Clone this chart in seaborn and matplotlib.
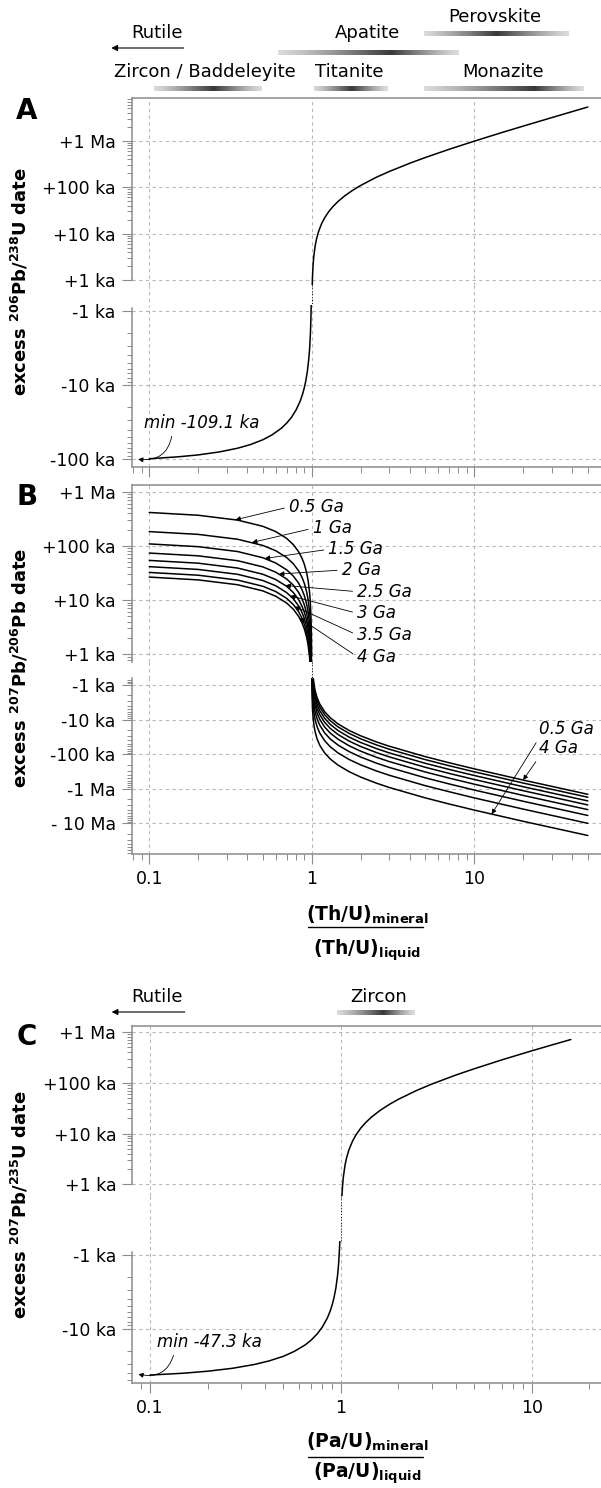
import numpy as np
import pandas as pd
import matplotlib
matplotlib.use("Agg")
import matplotlib.pyplot as plt
import matplotlib.transforms as mtransforms
from matplotlib.collections import LineCollection
from matplotlib.lines import Line2D
from matplotlib.ticker import FixedLocator, FuncFormatter, NullFormatter
import seaborn as sns

# --- data ---
# fractionation factor f = (X/U)mineral / (X/U)liquid
ratio_lo = [0.1, 0.15, 0.2, 0.27, 0.35, 0.42, 0.5, 0.57, 0.65, 0.7, 0.75, 0.8, 0.85, 0.88, 0.9,
            0.92, 0.94, 0.96, 0.97, 0.98, 0.985, 0.99, 0.993, 0.995, 0.998]
ratio_hi = [1.001, 1.003, 1.006, 1.01, 1.015, 1.02, 1.03, 1.05, 1.07, 1.1, 1.15, 1.2, 1.27, 1.35,
            1.45, 1.6, 1.8, 2, 2.5, 3, 4, 5, 7, 10, 15, 20, 30, 50]
ratio_hi_pa = [1.001, 1.003, 1.006, 1.01, 1.015, 1.02, 1.03, 1.05, 1.07, 1.1, 1.15, 1.2, 1.27, 1.35,
               1.45, 1.6, 1.8, 2, 2.5, 3, 4, 5, 7, 10, 13, 16]

# A: excess 206Pb/238U date (ka)
a_lo = [-98.2, -92.7, -87.3, -79.6, -70.9, -63.3, -54.6, -46.9, -38.2, -32.7, -27.3, -21.8, -16.4,
        -13.1, -10.9, -8.73, -6.55, -4.36, -3.27, -2.18, -1.64, -1.09, -0.764, -0.546, -0.218]
a_hi = [0.109, 0.327, 0.655, 1.09, 1.64, 2.18, 3.27, 5.46, 7.64, 10.9, 16.4, 21.8, 29.5, 38.2,
        49.1, 65.5, 87.3, 109, 164, 218, 327, 436, 655, 982, 1530, 2070, 3160, 5350]

# B: excess 207Pb/206Pb date (ka), one row per age
ages_ga = [0.5, 1, 1.5, 2, 2.5, 3, 3.5, 4]
ratio_lo_b = [0.1, 0.2, 0.35, 0.5, 0.6, 0.7, 0.77, 0.83, 0.87, 0.9, 0.93, 0.95, 0.97, 0.98, 0.99,
              0.995, 0.998]
ratio_hi_b = [1.001, 1.003, 1.01, 1.02, 1.035, 1.05, 1.08, 1.12, 1.2, 1.3, 1.45, 1.7, 2, 2.5, 3,
              5, 7, 10, 20, 50]
b_lo = [
    [414, 368, 299, 230, 184, 138, 105.8, 78.2, 59.8, 46, 32.2, 23, 13.8, 9.2, 4.6, 2.3, 0.92],
    [183.6, 163.2, 132.6, 102, 81.6, 61.2, 46.9, 34.7, 26.5, 20.4, 14.3, 10.2, 6.12, 4.08, 2.04, 1.02, 0.408],
    [108.9, 96.8, 78.7, 60.5, 48.4, 36.3, 27.8, 20.6, 15.7, 12.1, 8.47, 6.05, 3.63, 2.42, 1.21, 0.605, 0.242],
    [73.8, 65.6, 53.3, 41, 32.8, 24.6, 18.9, 13.9, 10.7, 8.2, 5.74, 4.1, 2.46, 1.64, 0.82, 0.41, 0.164],
    [54, 48, 39, 30, 24, 18, 13.8, 10.2, 7.8, 6, 4.2, 3, 1.8, 1.2, 0.6, 0.3, 0.12],
    [41.4, 36.8, 29.9, 23, 18.4, 13.8, 10.6, 7.82, 5.98, 4.6, 3.22, 2.3, 1.38, 0.92, 0.46, 0.23, 0.092],
    [32.4, 28.8, 23.4, 18, 14.4, 10.8, 8.28, 6.12, 4.68, 3.6, 2.52, 1.8, 1.08, 0.72, 0.36, 0.18, 0.072],
    [26.6, 23.6, 19.2, 14.8, 11.8, 8.85, 6.79, 5.02, 3.84, 2.95, 2.07, 1.48, 0.885, 0.59, 0.295, 0.148, 0.059],
]
b_hi = [
    [-0.46, -1.38, -4.6, -9.2, -16.1, -23, -36.8, -55.2, -92, -138, -207, -322, -460, -690, -920,
     -1840, -2760, -4140, -8740, -22500],
    [-0.204, -0.612, -2.04, -4.08, -7.14, -10.2, -16.3, -24.5, -40.8, -61.2, -91.8, -143, -204, -306,
     -408, -816, -1220, -1840, -3880, -10000],
    [-0.121, -0.363, -1.21, -2.42, -4.24, -6.05, -9.68, -14.5, -24.2, -36.3, -54.5, -84.7, -121, -182,
     -242, -484, -726, -1090, -2300, -5930],
    [-0.082, -0.246, -0.82, -1.64, -2.87, -4.1, -6.56, -9.84, -16.4, -24.6, -36.9, -57.4, -82, -123,
     -164, -328, -492, -738, -1560, -4020],
    [-0.06, -0.18, -0.6, -1.2, -2.1, -3, -4.8, -7.2, -12, -18, -27, -42, -60, -90, -120, -240, -360,
     -540, -1140, -2940],
    [-0.046, -0.138, -0.46, -0.92, -1.61, -2.3, -3.68, -5.52, -9.2, -13.8, -20.7, -32.2, -46, -69, -92,
     -184, -276, -414, -874, -2250],
    [-0.036, -0.108, -0.36, -0.72, -1.26, -1.8, -2.88, -4.32, -7.2, -10.8, -16.2, -25.2, -36, -54, -72,
     -144, -216, -324, -684, -1760],
    [-0.0295, -0.0885, -0.295, -0.59, -1.03, -1.48, -2.36, -3.54, -5.9, -8.85, -13.3, -20.7, -29.5,
     -44.3, -59, -118, -177, -266, -561, -1450],
]
# arrow tips / label anchors for the age labels (f, ka)
b_tip_ratio = [0.34, 0.43, 0.515, 0.63, 0.69, 0.74, 0.79, 0.84]
b_tip_ka = [304, 116, 58.7, 30.3, 18.6, 12.0, 7.6, 4.7]
b_label_ratio = [0.724, 1.014, 1.266, 1.531, 1.904, 1.904, 1.904, 1.904]
b_label_ka = [523, 211, 86.5, 35.9, 14.3, 5.71, 2.27, 0.903]

# C: excess 207Pb/235U date (ka)
c_lo = [-42.6, -40.2, -37.8, -34.5, -30.7, -27.4, -23.7, -20.3, -16.6, -14.2, -11.8, -9.46, -7.1,
        -5.68, -4.73, -3.78, -2.84, -1.89, -1.42, -0.946, -0.71, -0.473, -0.331, -0.237, -0.095]
c_hi = [0.047, 0.142, 0.284, 0.473, 0.71, 0.946, 1.42, 2.37, 3.31, 4.73, 7.1, 9.46, 12.8, 16.6,
        21.3, 28.4, 37.8, 47.3, 71, 94.6, 142, 189, 284, 426, 568, 710]

# typical mineral fractionation ranges (Th/U)
mineral_names = ["Zircon / Baddeleyite", "Titanite", "Monazite", "Apatite", "Perovskite"]
mineral_lo = [0.107, 1.03, 4.9, 0.62, 4.9]
mineral_hi = [0.49, 2.9, 47, 8.0, 38]
mineral_peak = [0.25, 1.77, 23.5, 3.1, 13.7]
mineral_label_x = [0.219, 1.70, 15.1, 2.19, 13.3]
mineral_rows = [(72, 88), (72, 88), (72, 88), (33, 52), (17, 33)]  # (text y px, bar y px)
# Pa/U panel
pa_names = ["Zircon"]
pa_lo, pa_hi, pa_peak, pa_label_x = [0.957], [2.42], [1.67], [1.571]

W, H = 601, 1488
SPINE = "#8c8c8c"
GRID = "#b8b8b8"

sns.set_style("ticks")
plt.rcParams["font.family"] = ["DejaVu Sans"]
plt.rcParams["mathtext.fontset"] = "dejavusans"
plt.rcParams["text.color"] = "black"
plt.rcParams["xtick.labelcolor"] = "black"
plt.rcParams["ytick.labelcolor"] = "black"

fig = plt.figure(figsize=(W / 100, H / 100), dpi=100)


def fy(px):
    return 1 - px / H


def px_axes(left, top, right, bottom):
    return fig.add_axes([left / W, 1 - bottom / H, (right - left) / W, (bottom - top) / H])


def minors(lo, hi):
    vals = [m * 10.0 ** e for e in range(-3, 9) for m in range(2, 10)]
    return [v for v in vals if lo * 0.999 <= v <= hi * 1.001]


def style(ax, xlim, ylim, ylabels, bounds, part, xlabels=False):
    ax.set_xscale("log")
    ax.set_yscale("log")
    ax.set_xlim(*xlim)
    if part == "neg":
        ax.set_ylim(ylim[1], ylim[0])
    else:
        ax.set_ylim(*ylim)
    ax.set_xlabel("")
    ax.set_ylabel("")
    ax.xaxis.set_major_locator(FixedLocator([0.1, 1, 10]))
    ax.xaxis.set_major_formatter(FuncFormatter(lambda v, p: f"{v:g}"))
    ax.xaxis.set_minor_locator(FixedLocator(minors(*xlim)))
    ax.xaxis.set_minor_formatter(NullFormatter())
    ax.yaxis.set_major_locator(FixedLocator(list(ylabels.keys())))
    ax.yaxis.set_major_formatter(FuncFormatter(lambda v, p: ylabels.get(v, "")))
    ax.yaxis.set_minor_locator(FixedLocator(minors(*bounds)))
    ax.yaxis.set_minor_formatter(NullFormatter())
    ax.grid(True, which="major", color=GRID, ls=(0, (3, 3)), lw=0.8)
    ax.set_axisbelow(True)
    for s in ax.spines.values():
        s.set_color(SPINE)
        s.set_linewidth(1.1)
    ax.spines["right"].set_visible(False)
    ax.spines["left"].set_bounds(*bounds)
    ax.tick_params(which="major", length=7, width=0.8, color=SPINE, labelsize=12.5, pad=4.5,
                   labelcolor="black")
    ax.tick_params(which="minor", length=3.5, width=0.7, color=SPINE)
    ax.tick_params(axis="x", which="minor", length=4)
    if part == "pos":
        ax.spines["bottom"].set_visible(False)
        ax.tick_params(axis="x", which="both", bottom=False, labelbottom=False)
    else:
        ax.spines["top"].set_visible(False)
        ax.tick_params(axis="x", labelbottom=xlabels)


def bridge(ax, top_px, bot_px):
    trans = mtransforms.blended_transform_factory(ax.transData, fig.transFigure)
    for xv in [0.1, 1, 10]:
        fig.add_artist(Line2D([xv, xv], [fy(top_px), fy(bot_px)], transform=trans,
                              color=GRID, ls=(0, (3, 3)), lw=0.8))
    fig.add_artist(Line2D([1, 1], [fy(top_px), fy(bot_px)], transform=trans,
                          color="black", ls=(0, (1, 2)), lw=0.7))


def gradient_bar(ax, lo, hi, peak, ypx):
    trans = mtransforms.blended_transform_factory(ax.transData, fig.transFigure)
    lx = np.linspace(np.log10(lo), np.log10(hi), 121)
    tp = (np.log10(peak) - lx[0]) / (lx[-1] - lx[0])
    t = (lx[:-1] + lx[1:]) / 2
    t = (t - lx[0]) / (lx[-1] - lx[0])
    d = np.where(t < tp, t / tp, (1 - t) / (1 - tp))
    g = 0.86 - 0.64 * d ** 1.2
    segs = [[(10 ** lx[i], fy(ypx)), (10 ** lx[i + 1], fy(ypx))] for i in range(120)]
    lc = LineCollection(segs, colors=[(v, v, v) for v in g], linewidths=3.6,
                        transform=trans, capstyle="butt", antialiaseds=False)
    lc.set_clip_on(False)
    ax.add_collection(lc, autolim=False)


def rutile(ax, text_x, arr_from, arr_to, text_px, arr_px):
    trans = mtransforms.blended_transform_factory(ax.transData, fig.transFigure)
    ax.text(text_x, fy(text_px), "Rutile", transform=trans, ha="center", va="center", fontsize=13)
    ax.annotate("", xy=(arr_to, fy(arr_px)), xytext=(arr_from, fy(arr_px)),
                xycoords=trans, textcoords=trans, annotation_clip=False,
                arrowprops=dict(arrowstyle="-|>", color="black", lw=0.8, mutation_scale=9,
                                shrinkA=0, shrinkB=0))


def line(ax, df, y):
    sns.lineplot(data=df, x="ratio", y=y, units="curve", estimator=None, color="black",
                 lw=1.1, ax=ax, legend=False)


def long_df(ratios, rows):
    recs = []
    for i, row in enumerate(rows):
        for r, v in zip(ratios, row):
            recs.append({"ratio": r, "excess": v, "mag": -v, "curve": i})
    return pd.DataFrame(recs)


arrow_kw = dict(arrowstyle="-|>", color="black", lw=0.6, mutation_scale=7, shrinkA=1, shrinkB=0)
ital = dict(fontsize=12, style="italic")

# ---------------- panel A ----------------
xlim_th = (0.078, 62)
axA = px_axes(131.7, 97.7, 603, 285)
axA2 = px_axes(131.7, 305, 603, 466.7)
line(axA, long_df(ratio_hi, [a_hi]), "excess")
line(axA2, long_df(ratio_lo, [a_lo]), "mag")
style(axA, xlim_th, (0.78, 8490), {1: "+1 ka", 10: "+10 ka", 100: "+100 ka", 1000: "+1 Ma"},
      (1, 8490), "pos")
style(axA2, xlim_th, (0.838, 125.8), {1: "-1 ka", 10: "-10 ka", 100: "-100 ka"},
      (0.92, 125.8), "neg")
bridge(axA, 285, 305)
axA2.annotate("min -109.1 ka", xy=(0.0855, 100), xytext=(0.0922, 32.2), ha="left", va="center",
              arrowprops=dict(arrow_kw, relpos=(0.25, 0.0), connectionstyle="arc3,rad=-0.5"),
              annotation_clip=False, **ital)

for name, lo, hi, pk, lx, (ty, by) in zip(mineral_names, mineral_lo, mineral_hi, mineral_peak,
                                          mineral_label_x, mineral_rows):
    trans = mtransforms.blended_transform_factory(axA.transData, fig.transFigure)
    axA.text(lx, fy(ty), name, transform=trans, ha="center", va="center", fontsize=13)
    gradient_bar(axA, lo, hi, pk, by)
rutile(axA, 0.111, 0.163, 0.0584, 33, 48)

# ---------------- panel B ----------------
axB = px_axes(131.7, 485, 603, 661.7)
axB2 = px_axes(131.7, 678, 603, 854.3)
line(axB, long_df(ratio_lo_b, b_lo), "excess")
line(axB2, long_df(ratio_hi_b, b_hi), "mag")
style(axB, xlim_th, (0.73, 1330), {1: "+1 ka", 10: "+10 ka", 100: "+100 ka", 1000: "+1 Ma"},
      (0.73, 1330), "pos")
style(axB2, xlim_th, (0.628, 78700),
      {1: "-1 ka", 10: "-10 ka", 100: "-100 ka", 1000: "-1 Ma", 10000: "- 10 Ma"},
      (0.628, 78700), "neg", xlabels=True)
bridge(axB, 661.7, 678)
for age, tr, tk, lr, lk in zip(ages_ga, b_tip_ratio, b_tip_ka, b_label_ratio, b_label_ka):
    axB.annotate(f"{age:g} Ga", xy=(tr, tk), xytext=(lr, lk), ha="left", va="center",
                 arrowprops=dict(arrow_kw, relpos=(0.0, 0.5)), annotation_clip=False, **ital)
axB2.annotate("0.5 Ga", xy=(12.8, 5430), xytext=(25, 19.1), ha="left", va="center",
              arrowprops=dict(arrow_kw, relpos=(0.0, 0.0)), **ital)
axB2.annotate("4 Ga", xy=(20, 560), xytext=(25, 67.5), ha="left", va="center",
              arrowprops=dict(arrow_kw, relpos=(0.0, 0.0)), **ital)

# ---------------- panel C ----------------
xlim_pa = (0.0807, 23.6)
axC = px_axes(132.3, 1025.7, 603, 1196)
axC2 = px_axes(132.3, 1241, 603, 1382.7)
line(axC, long_df(ratio_hi_pa, [c_hi]), "excess")
line(axC2, long_df(ratio_lo, [c_lo]), "mag")
style(axC, xlim_pa, (0.589, 1330), {1: "+1 ka", 10: "+10 ka", 100: "+100 ka", 1000: "+1 Ma"},
      (1, 1330), "pos")
style(axC2, xlim_pa, (0.646, 54.1), {1: "-1 ka", 10: "-10 ka"}, (0.902, 54.1), "neg",
      xlabels=True)
bridge(axC, 1196, 1241)
axC2.annotate("min -47.3 ka", xy=(0.0868, 41.6), xytext=(0.1085, 15.0), ha="left", va="center",
              arrowprops=dict(arrow_kw, relpos=(0.17, 0.0), connectionstyle="arc3,rad=-0.5"),
              annotation_clip=False, **ital)
for name, lo, hi, pk, lx in zip(pa_names, pa_lo, pa_hi, pa_peak, pa_label_x):
    trans = mtransforms.blended_transform_factory(axC.transData, fig.transFigure)
    axC.text(lx, fy(997), name, transform=trans, ha="center", va="center", fontsize=13)
    gradient_bar(axC, lo, hi, pk, 1012)
rutile(axC, 0.109, 0.152, 0.0629, 997, 1012)

# ---------------- labels ----------------
for letter, ypx in [("A", 111), ("B", 497), ("C", 1037)]:
    fig.text(27 / W, fy(ypx), letter, fontsize=20, fontweight="bold", ha="center", va="center")

ylabels = [(282, r"excess $^{\mathbf{206}}$Pb/$^{\mathbf{238}}$U date"),
           (668, r"excess $^{\mathbf{207}}$Pb/$^{\mathbf{206}}$Pb date"),
           (1205, r"excess $^{\mathbf{207}}$Pb/$^{\mathbf{235}}$U date")]
for ypx, txt in ylabels:
    fig.text(20 / W, fy(ypx), txt, rotation=90, fontsize=13, fontweight="bold",
             ha="center", va="center")

for el, top_px, line_px, bot_px in [("Th/U", 915, 926.7, 950), ("Pa/U", 1441.7, 1456.7, 1473)]:
    fig.text(367 / W, fy(top_px), rf"({el})$_{{\mathbf{{mineral}}}}$", fontsize=13.5,
             fontweight="bold", ha="center", va="center")
    fig.text(367 / W, fy(bot_px), rf"({el})$_{{\mathbf{{liquid}}}}$", fontsize=13.5,
             fontweight="bold", ha="center", va="center")
    fig.add_artist(Line2D([308 / W, 423 / W], [fy(line_px)] * 2, color="black", lw=1.0))

fig.savefig("out.png", dpi=100)
